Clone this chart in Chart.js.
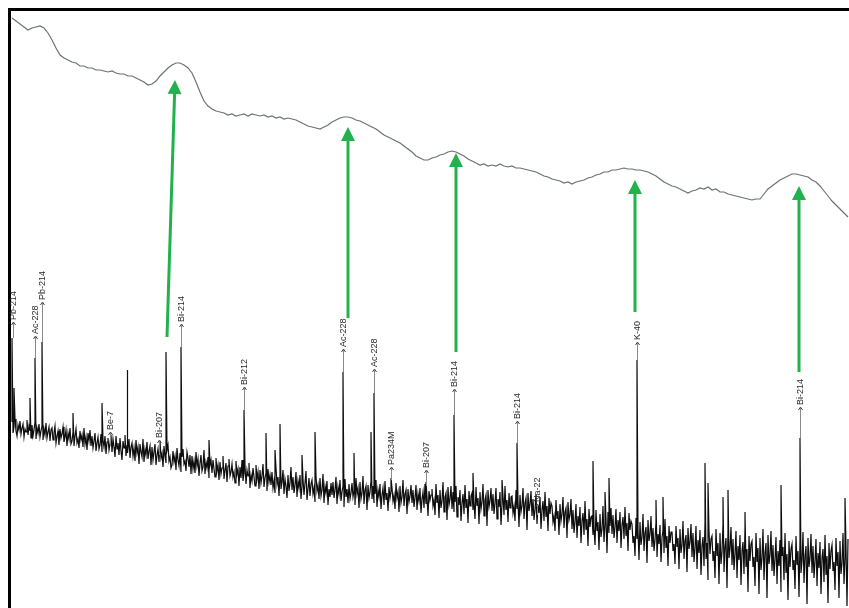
<!DOCTYPE html>
<html>
<head>
<meta charset="utf-8">
<title>Spectrum</title>
<script src="https://cdn.jsdelivr.net/npm/chart.js@4.4.0/dist/chart.umd.min.js"></script>
<style>
    html, body { margin: 0; padding: 0; background: #fff; overflow: hidden; }
    canvas { display: block; }
</style>
</head>
<body>
<canvas id="graph_spectrum" width="849" height="608"></canvas>
<script>

// upper curve, one value every 4 channels starting at 12
const curveStart = 12;
const curveStep = 4;
const curveValues = [
    18, 21, 24, 27, 30, 28, 27, 26, 28, 33,
    40, 48, 55, 58, 60, 62, 63, 66, 66, 68,
    68, 70, 70, 71, 72, 71, 73, 74, 74, 76,
    76, 78, 80, 82, 85, 84, 81, 76, 72, 68,
    65, 63, 63, 65, 68, 73, 82, 92, 101, 106,
    109, 111, 112, 113, 115, 114, 116, 115, 114, 116,
    114, 115, 116, 115, 117, 116, 118, 117, 119, 118,
    119, 120, 122, 124, 126, 127, 128, 129, 127, 125,
    122, 120, 118, 117, 117, 118, 120, 121, 123, 125,
    127, 129, 132, 135, 137, 139, 141, 143, 146, 149,
    152, 156, 158, 160, 160, 158, 157, 155, 154, 152,
    151, 152, 154, 156, 159, 161, 163, 165, 164, 166,
    165, 166, 164, 166, 167, 166, 168, 168, 169, 170,
    171, 172, 174, 176, 177, 179, 180, 181, 183, 182,
    184, 182, 181, 180, 178, 177, 175, 174, 172, 172,
    170, 170, 169, 168, 169, 169, 170, 170, 171, 172,
    174, 176, 179, 182, 184, 186, 187, 189, 191, 193,
    191, 190, 188, 189, 187, 190, 189, 192, 192, 194,
    195, 196, 197, 198, 199, 200, 199, 199, 194, 189,
    186, 183, 180, 178, 176, 174, 174, 175, 176, 177,
    180, 182, 186, 191, 196, 201, 205, 209, 213, 217
];

// lower spectrum background, one value per channel starting at 12
const specStart = 12;
const specValues = [
    422, 433, 427, 419, 431, 436, 425, 430, 421, 434, 428, 424, 437, 429, 432, 420, 435, 426, 431, 438,
    425, 436, 430, 422, 439, 428, 433, 424, 437, 431, 426, 440, 429, 435, 423, 438, 432, 427, 441, 430,
    428, 440, 433, 426, 443, 436, 431, 445, 429, 438, 434, 427, 442, 437, 430, 446, 433, 439, 428, 444,
    441, 432, 446, 436, 429, 443, 439, 448, 431, 440, 435, 447, 428, 444, 437, 450, 433, 441, 430, 446,
    436, 448, 441, 433, 451, 443, 437, 449, 445, 434, 452, 440, 447, 436, 454, 442, 438, 450, 444, 435,
    452, 439, 447, 457, 436, 449, 443, 455, 438, 451, 460, 441, 448, 435, 456, 445, 453, 439, 458, 447,
    443, 456, 448, 461, 440, 453, 447, 464, 444, 452, 457, 439, 462, 449, 455, 442, 459, 451, 446, 465,
    447, 460, 452, 444, 465, 455, 449, 462, 441, 458, 453, 467, 446, 456, 463, 450, 445, 461, 457, 468,
    465, 451, 462, 456, 470, 448, 460, 466, 453, 472, 457, 449, 464, 461, 471, 452, 458, 467, 455, 474,
    456, 469, 461, 473, 452, 466, 459, 476, 463, 455, 471, 467, 450, 474, 462, 468, 457, 478, 465, 460,
    473, 460, 469, 477, 458, 471, 465, 480, 462, 474, 468, 456, 479, 470, 463, 482, 466, 459, 476, 472,
    464, 477, 472, 483, 461, 474, 469, 486, 467, 478, 460, 481, 473, 466, 484, 470, 476, 463, 488, 475,
    481, 468, 477, 486, 465, 479, 472, 489, 470, 483, 476, 464, 487, 478, 473, 491, 469, 482, 475, 485,
    472, 488, 481, 493, 468, 484, 477, 496, 474, 489, 482, 470, 494, 479, 486, 498, 475, 491, 483, 467,
    490, 477, 493, 485, 472, 497, 481, 488, 475, 499, 486, 479, 495, 483, 471, 500, 489, 478, 496, 484,
    480, 494, 488, 502, 476, 491, 485, 499, 478, 496, 490, 474, 503, 486, 493, 481, 505, 489, 497, 483,
    495, 482, 498, 490, 477, 504, 487, 494, 480, 501, 492, 486, 507, 479, 497, 489, 503, 484, 499, 493,
    483, 497, 491, 505, 478, 494, 488, 508, 482, 499, 493, 476, 504, 490, 486, 510, 485, 498, 492, 481,
    499, 486, 503, 494, 480, 507, 490, 497, 484, 509, 495, 488, 505, 481, 500, 493, 511, 487, 498, 491,
    488, 501, 495, 509, 483, 498, 492, 512, 486, 503, 497, 480, 506, 494, 490, 514, 489, 502, 496, 485,
    503, 490, 507, 498, 485, 510, 494, 501, 488, 513, 499, 492, 508, 484, 504, 497, 516, 491, 500, 495,
    489, 506, 500, 515, 484, 503, 495, 518, 490, 508, 501, 482, 512, 497, 493, 520, 487, 505, 499, 486,
    509, 492, 512, 502, 486, 517, 497, 505, 490, 521, 503, 494, 514, 485, 508, 499, 523, 491, 506, 496,
    493, 510, 503, 519, 487, 506, 498, 524, 492, 509, 502, 484, 516, 500, 495, 526, 490, 507, 501, 488,
    511, 494, 514, 503, 488, 519, 499, 507, 492, 525, 504, 496, 515, 486, 510, 500, 522, 493, 508, 497,
    496, 513, 506, 521, 490, 509, 501, 527, 495, 512, 506, 488, 519, 503, 498, 530, 493, 511, 504, 491,
    516, 499, 520, 510, 494, 524, 505, 513, 497, 529, 510, 501, 521, 492, 517, 506, 531, 498, 514, 503,
    506, 522, 516, 531, 500, 519, 511, 535, 504, 521, 514, 497, 528, 512, 508, 538, 502, 520, 515, 499,
    529, 510, 533, 522, 504, 538, 516, 526, 507, 543, 521, 513, 535, 501, 530, 519, 546, 509, 527, 517,
    516, 535, 528, 545, 510, 531, 522, 550, 514, 537, 529, 506, 542, 524, 519, 553, 512, 533, 526, 508,
    534, 515, 538, 527, 509, 543, 520, 531, 512, 548, 525, 517, 539, 507, 536, 523, 551, 513, 530, 521,
    524, 543, 536, 556, 518, 539, 530, 560, 522, 545, 537, 514, 551, 533, 527, 563, 520, 541, 534, 516,
    547, 528, 551, 540, 522, 557, 534, 544, 525, 562, 538, 530, 553, 519, 548, 536, 566, 526, 543, 532,
    532, 551, 544, 564, 526, 547, 538, 569, 529, 553, 545, 521, 559, 541, 535, 572, 528, 549, 542, 524,
    557, 533, 562, 548, 526, 569, 540, 553, 530, 575, 546, 537, 566, 522, 559, 543, 580, 531, 554, 539,
    536, 561, 551, 578, 529, 556, 543, 584, 533, 564, 552, 524, 572, 547, 538, 588, 530, 558, 549, 527,
    565, 539, 570, 554, 531, 578, 546, 560, 535, 585, 551, 542, 574, 528, 567, 549, 592, 536, 561, 544,
    541, 567, 557, 586, 533, 562, 548, 594, 538, 570, 558, 529, 580, 553, 543, 598, 535, 564, 555, 531,
    571, 545, 576, 559, 537, 584, 551, 566, 540, 592, 556, 547, 580, 533, 573, 554, 600, 541, 567, 549,
    544, 570, 560, 589, 536, 565, 551, 597, 540, 573, 561, 532, 583, 556, 546, 604, 538, 567, 558, 534,
    573, 546, 578, 561, 539, 586, 553, 568, 542, 594, 558, 549, 582, 535, 575, 556, 603, 543, 569, 551,
    545, 571, 562, 590, 538, 566, 552, 598, 541, 574, 563, 533, 584, 557, 547, 606, 539
];

// peaks on top of the background: channel and peak top
const peakChannels = [12, 14, 30, 35, 42, 73, 102, 127, 166, 181, 209, 244, 266, 275, 280, 302, 315,
    343, 354, 371, 374, 391, 426, 454, 473, 502, 517, 593, 605, 609, 637, 656, 663, 705, 708, 723, 728,
    745, 781, 800, 845];
const peakTops = [338, 388, 398, 358, 342, 413, 403, 370, 352, 347, 440, 410, 433, 450, 424, 455, 432,
    372, 453, 432, 393, 478, 482, 415, 473, 480, 443, 461, 492, 478, 360, 500, 497, 463, 483, 497, 490,
    512, 485, 438, 498];

// nuclide labels: name, channel, arrow level, leader end
const labelNames = ['Pb-214', 'Ac-228', 'Pb-214', 'Be-7', 'Bi-207', 'Bi-214', 'Bi-212', 'Ac-228', 'Ac-228',
    'Pa234M', 'Bi-207', 'Bi-214', 'Bi-214', 'Na-22', 'K-40', 'Bi-214'];
const labelChannels = [13, 35, 42, 110, 159, 181, 244, 343, 374, 391, 426, 454, 517, 537, 637, 800];
const labelLevels = [323, 337, 303, 433, 441, 325, 388, 350, 370, 468, 471, 390, 422, 505, 343, 408];
const labelLeadEnds = [338, 358, 342, 446, 455, 347, 410, 372, 393, 480, 486, 415, 443, 515, 360, 438];

// green arrows from the spectrum peaks up to the curve bumps
const arrowFromX = [167, 348, 456, 635, 799];
const arrowFromY = [337, 318, 352, 312, 372];
const arrowToX = [175, 348, 456, 635, 799];
const arrowToY = [80, 127, 153, 180, 186];


const curveData = curveValues.map((v, i) => ({ x: curveStart + i * curveStep, y: v }));

let specData = specValues.map((v, i) => ({ x: specStart + i, y: v, o: 0 }));
peakChannels.forEach((ch, i) => specData.push({ x: ch, y: peakTops[i], o: 1 }));
specData.sort((a, b) => a.x - b.x || a.o - b.o);


const framePlugin = {
    id: 'frame',
    beforeDraw(chart) {
        const c = chart.ctx;
        const xs = chart.scales.x, ys = chart.scales.y;
        const x0 = xs.getPixelForValue(8), y0 = ys.getPixelForValue(8);
        c.save();
        c.fillStyle = '#000';
        c.fillRect(x0, y0, xs.getPixelForValue(849) - x0, 3);
        c.fillRect(x0, y0, 3, ys.getPixelForValue(608) - y0);
        c.restore();
    }
};

const labelPlugin = {
    id: 'nuclides',
    afterDatasetsDraw(chart) {
        const c = chart.ctx;
        const xs = chart.scales.x, ys = chart.scales.y;
        c.save();

        // nuclide names with a leader and a tiny arrow
        labelNames.forEach((name, i) => {
            const px = Math.round(xs.getPixelForValue(labelChannels[i])) + 0.5;
            const py = ys.getPixelForValue(labelLevels[i]);
            const pe = ys.getPixelForValue(labelLeadEnds[i]);
            c.strokeStyle = '#8a8a8a';
            c.lineWidth = 1;
            c.beginPath();
            c.moveTo(px, pe);
            c.lineTo(px, py);
            c.stroke();
            c.strokeStyle = '#444';
            c.beginPath();
            c.moveTo(px - 2, py + 2);
            c.lineTo(px, py - 1);
            c.lineTo(px + 2, py + 2);
            c.stroke();

            c.save();
            c.translate(px, py - 3);
            c.rotate(-Math.PI / 2);
            c.fillStyle = '#2a2a2a';
            c.font = '9px "Liberation Sans", Arial, sans-serif';
            c.textAlign = 'left';
            c.textBaseline = 'middle';
            c.fillText(name, 0, 0.5);
            c.restore();
        });

        // green arrows
        c.fillStyle = '#22b14c';
        c.strokeStyle = '#22b14c';
        arrowFromX.forEach((fx, i) => {
            const x1 = xs.getPixelForValue(fx), y1 = ys.getPixelForValue(arrowFromY[i]);
            const x2 = xs.getPixelForValue(arrowToX[i]), y2 = ys.getPixelForValue(arrowToY[i]);
            const ang = Math.atan2(y2 - y1, x2 - x1);
            const head = 14, half = 7;
            const bx = x2 - head * Math.cos(ang), by = y2 - head * Math.sin(ang);
            c.lineWidth = 3;
            c.beginPath();
            c.moveTo(x1, y1);
            c.lineTo(bx, by);
            c.stroke();
            c.beginPath();
            c.moveTo(x2, y2);
            c.lineTo(bx + half * Math.sin(ang), by - half * Math.cos(ang));
            c.lineTo(bx - half * Math.sin(ang), by + half * Math.cos(ang));
            c.closePath();
            c.fill();
        });
        c.restore();
    }
};


const ctx = document.getElementById('graph_spectrum');
const spectrumChart = new Chart(ctx, {
    type: 'line',
    data: {
        datasets: [
            { // верхняя кривая
                label: 'curve',
                data: curveData,
                borderColor: '#6b7371',
                borderWidth: 1.2,
                pointRadius: 0,
                tension: 0
            },
            { // спектр
                label: 'spectrum',
                data: specData,
                borderColor: '#0d0d0d',
                borderWidth: 1.2,
                pointRadius: 0,
                tension: 0
            }
        ]
    },
    options: {
        responsive: false,
        animation: false,
        layout: { padding: 0 },
        plugins: {
            legend: { display: false },
            tooltip: { enabled: false }
        },
        scales: {
            x: { type: 'linear', display: false, min: 0, max: 849 },
            y: { type: 'linear', display: false, min: 0, max: 608, reverse: true }
        }
    },
    plugins: [framePlugin, labelPlugin]
});

</script>
</body>
</html>
